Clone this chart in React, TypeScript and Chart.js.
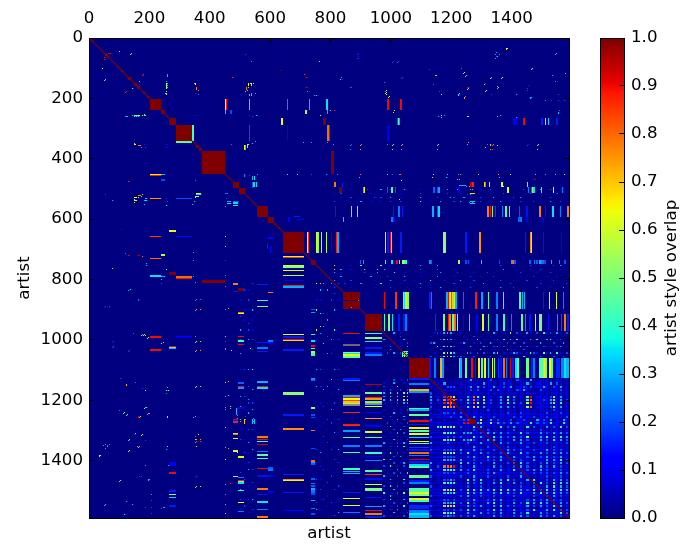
import React, { useEffect, useRef } from "react";
import { Chart, registerables, ScatterController } from "chart.js";

// ---------- axis values ----------
const extent = 1590;
const matrixTicks = [0, 200, 400, 600, 800, 1000, 1200, 1400];
const colorbarTicks = [0, 0.1, 0.2, 0.3, 0.4, 0.5, 0.6, 0.7, 0.8, 0.9, 1.0];
const axisTitle = "artist";
const colorbarTitle = "artist style overlap";

// ---------- blocks on the diagonal [start, end] ----------
const diagonalBlocks = [
  [202, 238], [238, 251], [265, 288], [288, 342], [354, 363], [363, 374], [374, 450], [476, 496], [496, 517],
  [556, 592], [592, 612], [642, 711], [734, 751], [129, 140], [149, 159], [159, 169], [841, 868], [871, 898], [914, 971], [1059, 1126],
  [8, 12], [32, 38], [44, 48], [60, 66], [78, 84], [92, 98], [106, 112], [120, 124], [192, 198], [180, 184],
  [626, 632], [612, 618], [600, 606], [1262, 1278], [1200, 1206], [1140, 1146],
];
const offDiagonalBlocks = [
  [841, 868, 871, 898, 1], [871, 898, 871, 898, 1], [871, 898, 841, 868, 1], [841, 868, 841, 868, 1],
];

// ---------- stripes of each community: [position, width, value] ----------
const band202 = [[450, 3, 0.62], [453, 3, 0.88], [530, 3, 0.75], [656, 3, 0.85], [729, 3, 0.8], [786, 3, 0.35], [988, 3, 0.9], [1031, 3, 0.9]];
const band238 = [[450, 3, 0.32], [468, 3, 0.2], [788, 3, 0.3], [716, 3, 0.55]];
const band265 = [[637, 4, 0.65], [775, 10, 1], [1024, 4, 0.42], [1028, 2, 0.3], [1020, 3, 0.9], [1405, 3, 0.12], [1412, 3, 0.12], [1438, 3, 0.9], [1510, 3, 0.5], [1520, 3, 0.33], [1548, 3, 0.15], [1498, 3, 0.15]];
const band288 = [[342, 4, 0.45], [530, 3, 0.2], [656, 3, 0.12], [790, 3, 0.8], [794, 3, 0.9], [988, 3, 0.1]];
const band374 = [[803, 7, 1]];
const band476 = [[812, 3, 0.78], [838, 3, 0.15], [1261, 5, 0.92], [1266, 3, 0.15], [1270, 5, 0.88], [1308, 3, 0.68], [1312, 3, 0.8], [1325, 3, 0.58], [1366, 3, 0.62], [1451, 3, 0.5], [544, 3, 0.35], [552, 3, 0.35]];
const band496 = [[829, 6, 1], [908, 3, 0.78], [911, 3, 0.65], [986, 3, 0.9], [1001, 3, 0.42], [1013, 3, 0.9], [1140, 3, 0.22], [1153, 3, 0.9], [1157, 3, 0.28], [1223, 3, 0.12], [1385, 3, 0.62], [1454, 3, 0.25], [1464, 3, 0.88], [1468, 3, 0.5], [1472, 3, 0.35], [1497, 3, 0.38], [1537, 3, 0.62], [1567, 3, 0.25]];
const band556 = [[814, 3, 0.15], [868, 3, 0.42], [888, 3, 0.5], [1007, 3, 0.15], [1024, 3, 0.25], [1037, 3, 0.15], [1137, 3, 0.3], [1153, 3, 0.9], [1157, 3, 0.35], [1319, 3, 0.78], [1327, 3, 0.9], [1335, 3, 0.45], [1344, 3, 0.92], [1368, 3, 0.25], [1379, 3, 0.45], [1390, 3, 0.45], [1424, 3, 0.9], [1448, 3, 0.14], [1491, 3, 0.78], [1510, 3, 0.14], [1535, 3, 0.35], [1560, 3, 0.25], [1585, 3, 0.78]];
const band592 = [[840, 4, 0.78], [1000, 4, 0.25], [1008, 4, 0.13], [1421, 4, 0.22], [1428, 4, 0.25], [1448, 4, 0.1], [1500, 4, 0.1], [660, 4, 0.12]];
const band642 = [[721, 3, 0.62], [724, 3, 0.85], [751, 4, 0.6], [755, 4, 0.52], [768, 3, 0.62], [784, 3, 0.55], [800, 3, 0.1], [817, 3, 0.88], [820, 3, 0.72], [823, 2, 0.3], [980, 3, 0.62], [988, 3, 0.15], [997, 3, 0.9], [1000, 3, 0.68], [1031, 3, 0.15], [1173, 7, 0.52], [1246, 3, 0.15], [1293, 3, 0.76], [1443, 4, 0.15], [1460, 3, 0.76], [1463, 3, 0.65], [1504, 3, 0.14], [1563, 3, 0.12]];
const band734 = [[897, 3, 0.22], [906, 3, 0.28], [980, 3, 0.42], [1002, 3, 0.35], [1018, 3, 0.9], [1026, 3, 0.48], [1036, 8, 0.58], [1044, 7, 0.42], [1127, 3, 0.27], [1132, 3, 0.22], [1223, 3, 0.55], [1246, 3, 0.2], [1255, 3, 0.2], [1297, 3, 0.78], [1358, 3, 0.2], [1399, 3, 0.8], [1403, 3, 0.3], [1409, 3, 0.22], [1459, 3, 0.22], [1473, 3, 0.25], [1482, 5, 0.22], [1490, 6, 0.3], [1498, 7, 0.24], [1508, 5, 0.2], [1530, 3, 0.3], [1556, 3, 0.25], [1572, 5, 0.2]];
const band841 = [[1040, 4, 0.52], [1044, 3, 0.35], [1047, 4, 0.62], [1052, 3, 0.3], [1055, 3, 0.48], [1127, 3, 0.15], [1132, 3, 0.25], [1184, 4, 0.3], [1190, 3, 0.9], [1194, 3, 0.65], [1198, 3, 0.85], [1204, 3, 0.7], [1208, 3, 0.55], [1212, 3, 0.8], [1216, 3, 0.3], [1238, 3, 0.88], [1280, 3, 0.88], [1300, 3, 0.28], [1321, 3, 0.45], [1349, 3, 0.25], [1371, 3, 0.42], [1426, 4, 0.42], [1434, 3, 0.3], [1441, 3, 0.3], [1503, 3, 0.15], [1523, 3, 0.62], [1547, 3, 0.62], [1569, 3, 0.25], [977, 3, 0.9], [1015, 3, 0.85], [1012, 3, 0.25], [891, 3, 0.8]];
const band914 = [[977, 3, 0.42], [991, 3, 0.52], [1004, 3, 0.35], [1024, 3, 0.15], [1040, 6, 0.15], [1048, 5, 0.25], [1145, 3, 0.95], [1172, 6, 0.48], [1189, 3, 0.88], [1194, 3, 0.75], [1203, 3, 0.45], [1209, 3, 0.78], [1212, 3, 0.3], [1218, 3, 0.62], [1239, 3, 0.12], [1258, 3, 0.75], [1283, 3, 0.12], [1303, 3, 0.62], [1321, 3, 0.45], [1349, 3, 0.25], [1373, 3, 0.42], [1384, 3, 0.12], [1398, 3, 0.25], [1430, 5, 0.45], [1443, 3, 0.85], [1459, 3, 0.14], [1477, 3, 0.62], [1492, 6, 0.5], [1520, 3, 0.14], [1550, 3, 0.28], [1563, 3, 0.9], [1575, 3, 0.78], [1585, 3, 0.15]];
const band1059 = [[1127, 4, 0.15], [1143, 4, 0.25], [1162, 7, 0.72], [1169, 4, 0.28], [1225, 4, 0.42], [1229, 4, 0.3], [1247, 4, 0.48], [1267, 4, 0.9], [1277, 3, 0.15], [1288, 4, 0.65], [1300, 4, 0.45], [1310, 4, 0.62], [1321, 4, 0.33], [1334, 4, 0.65], [1340, 3, 0.48], [1354, 4, 0.18], [1362, 4, 0.14], [1371, 4, 0.8], [1380, 4, 0.25], [1393, 4, 0.92], [1402, 3, 0.15], [1410, 7, 0.35], [1417, 7, 0.45], [1446, 9, 0.48], [1464, 5, 0.15], [1470, 6, 0.25], [1492, 11, 0.45], [1503, 7, 0.62], [1510, 6, 0.5], [1525, 6, 0.62], [1531, 5, 0.42], [1548, 11, 0.16], [1564, 8, 0.25], [1572, 8, 0.35], [1580, 9, 0.3]];

// ---------- faint lines running through the busy corner: [position, value] ----------
const cornerLines = [
  [1245, 0.1], [1256, 0.07], [1272, 0.11], [1283, 0.08], [1305, 0.12], [1322, 0.12], [1339, 0.08], [1361, 0.11], [1372, 0.08], [1388, 0.1], [1399, 0.08],
  [1427, 0.12], [1438, 0.1], [1449, 0.08], [1493, 0.11], [1504, 0.12], [1515, 0.1], [1532, 0.12], [1548, 0.1], [1565, 0.11], [1581, 0.08],
];

// ---------- thin rows crossing the wide stripes [x0, x1, y, value] ----------
const rowRuns = [
  [1040, 1058, 1036, 0.48], [1040, 1058, 1044, 0.62], [1040, 1058, 1050, 0.42], [1190, 1219, 1196, 0.85],
  [149, 169, 255, 0.5], [122, 128, 257, 0.32], [150, 157, 352, 0.65], [163, 171, 354, 0.78], [150, 158, 527, 0.62],
  [150, 158, 535, 0.6], [163, 171, 521, 0.78], [174, 180, 517, 0.45], [185, 192, 529, 0.35], [185, 192, 538, 0.35],
  [354, 372, 512, 0.62], [354, 372, 518, 0.35], [352, 366, 522, 0.55], [458, 472, 540, 0.3], [478, 496, 540, 0.22],
  [458, 472, 546, 0.35], [450, 462, 512, 0.25], [1225, 1250, 488, 0.3], [1261, 1278, 512, 0.7], [1261, 1278, 540, 0.32],
  [1261, 1278, 546, 0.32], [1150, 1172, 575, 0.12], [680, 700, 590, 0.15], [690, 712, 600, 0.13],
];

// ---------- loose cells [x, y, value] ----------
const looseCells = [
  [100, 44, 0.6], [140, 51, 0.4], [49, 62, 0.9], [56, 52, 0.9], [62, 58, 0.9], [68, 50, 0.9], [538, 75, 0.3], [518, 53, 0.2], [762, 75, 0.7],
  [632, 107, 1], [711, 118, 0.85], [718, 128, 0.9], [180, 118, 0.85], [257, 118, 0.3], [259, 148, 0.35], [259, 156, 0.35], [259, 162, 0.35], [53, 137, 0.4],
  [474, 130, 0.85], [348, 148, 0.7], [532, 150, 0.6], [544, 150, 0.65], [527, 161, 0.7], [522, 172, 0.72], [718, 161, 0.9], [360, 172, 0.8], [122, 176, 0.9],
  [166, 163, 0.55], [144, 166, 0.4], [255, 181, 0.4], [251, 183, 0.5], [538, 183, 0.3], [551, 183, 0.3], [352, 181, 0.15], [362, 185, 0.2], [722, 176, 0.8],
  [745, 188, 0.3], [752, 190, 0.32], [892, 50, 0.15], [892, 58, 0.15], [892, 67, 0.15], [1008, 76, 0.15], [1024, 76, 0.2], [1349, 48, 0.3], [1349, 60, 0.22],
  [1358, 52, 0.3], [1385, 32, 0.65], [1546, 51, 0.3], [1150, 122, 0.7], [1243, 112, 0.65], [1248, 122, 0.35], [1333, 130, 0.35], [1368, 130, 0.6], [835, 130, 0.3],
  [1037, 130, 0.2], [1467, 100, 0.4], [1256, 161, 0.9], [1256, 167, 0.5], [1313, 150, 0.2], [1355, 161, 0.7], [1367, 148, 0.15], [1454, 155, 0.15], [868, 161, 0.2],
  [983, 172, 0.6], [983, 178, 0.62], [983, 185, 0.55], [994, 193, 0.65], [1245, 193, 0.8], [1226, 181, 0.5], [1464, 194, 0.3], [1314, 172, 0.6], [1535, 122, 0.3],
  [798, 240, 0.35], [811, 240, 0.9], [980, 240, 0.15], [1011, 240, 0.62], [1556, 240, 0.25], [124, 258, 0.35], [144, 255, 0.3], [174, 255, 0.5], [185, 255, 0.7], [257, 258, 0.35],
  [351, 255, 0.15], [360, 255, 0.12], [530, 255, 0.15], [540, 258, 0.2], [552, 255, 0.35], [765, 255, 0.48], [1156, 258, 0.3], [1175, 256, 0.25], [1256, 258, 0.5], [1360, 255, 0.3],
  [809, 350, 0.8], [868, 350, 0.22], [902, 350, 0.78], [986, 350, 0.3], [1007, 350, 0.5], [1037, 350, 0.72], [1156, 350, 0.48], [1256, 345, 0.75], [1319, 350, 0.28], [1328, 350, 0.5],
  [1338, 350, 0.8], [1454, 350, 0.15], [1487, 350, 0.5], [472, 350, 0.85], [522, 350, 0.38], [527, 350, 0.6], [522, 358, 0.45], [540, 348, 0.3], [550, 340, 0.3], [710, 345, 0.78],
  [736, 345, 0.3], [788, 345, 0.3], [822, 452, 0.8], [897, 452, 0.78], [988, 450, 0.7], [1003, 452, 0.2], [1030, 450, 0.78], [1140, 452, 0.62], [1186, 452, 0.35], [1223, 452, 0.8],
  [1230, 452, 0.3], [1290, 452, 0.7], [1355, 452, 0.75], [1395, 452, 0.62], [1478, 452, 0.75], [1510, 452, 0.3], [1543, 452, 0.35], [1572, 452, 0.55], [530, 455, 0.2], [558, 452, 0.3],
  [656, 452, 0.5], [688, 452, 0.7], [735, 452, 0.2], [786, 452, 0.3], [1370, 490, 0.6], [1250, 490, 0.3], [1258, 490, 0.8], [1270, 500, 0.75], [1220, 500, 0.8], [1140, 500, 0.3],
  [135, 832, 0.35], [163, 865, 0.25], [356, 865, 0.25], [367, 865, 0.25], [356, 898, 0.75], [367, 898, 0.75], [461, 895, 0.75], [53, 889, 0.2], [67, 889, 0.2], [80, 1004, 0.2],
  [80, 1020, 0.25], [133, 1034, 0.2], [146, 977, 0.25], [174, 981, 0.3], [183, 981, 0.65], [196, 991, 0.55], [244, 1007, 0.65], [356, 1004, 0.5], [367, 1004, 0.5], [356, 1034, 0.75],
  [367, 1034, 0.75], [452, 1027, 0.8], [470, 1034, 0.6], [533, 1027, 0.65], [102, 1126, 0.2], [124, 1146, 0.75], [151, 1141, 0.25], [174, 1159, 0.2], [186, 1165, 0.55], [254, 1165, 0.45],
  [262, 1165, 0.5], [356, 1153, 0.5], [367, 1153, 0.5], [459, 1137, 0.7], [459, 1183, 0.35], [100, 1232, 0.25], [117, 1239, 0.6], [127, 1245, 0.4], [163, 1252, 0.95], [169, 1252, 0.6],
  [184, 1222, 0.35], [188, 1222, 0.35], [196, 1242, 0.75], [200, 1242, 0.75], [259, 1252, 0.6], [352, 1252, 0.75], [466, 1226, 0.75], [466, 1220, 0.4], [516, 1252, 0.9], [516, 1262, 0.3],
  [544, 1258, 0.3], [544, 1268, 0.3], [151, 1308, 0.5], [174, 1312, 0.6], [133, 1328, 0.4], [53, 1345, 0.3], [67, 1345, 0.3], [58, 1352, 0.35], [160, 1350, 0.75], [166, 1350, 0.75], [133, 1365, 0.65],
  [185, 1330, 0.2], [259, 1350, 0.55], [362, 1312, 0.6], [356, 1328, 0.75], [367, 1328, 0.75], [356, 1334, 0.85], [367, 1334, 0.85], [353, 1352, 0.65], [459, 1358, 0.75], [34, 1380, 0.65],
  [36, 1380, 0.65], [185, 1416, 0.3], [262, 1416, 0.3], [102, 1463, 0.45], [165, 1450, 0.2], [172, 1450, 0.2], [196, 1460, 0.3], [200, 1460, 0.3], [356, 1450, 0.2], [356, 1484, 0.55], [367, 1484, 0.55],
  [466, 1474, 0.9], [205, 1512, 0.3], [53, 1543, 0.3], [141, 1543, 0.3], [117, 1576, 0.35], [244, 1553, 0.3], [248, 1553, 0.3], [186, 1553, 0.2], [205, 1553, 0.2], [205, 1530, 0.2], [205, 1575, 0.2],
];

// ---------- hand-read cell tables: one digit per cell, tenths of overlap ----------
const denseRows = [
  "000100000000300100200010002000300010000100",
  "001030000100100030010020100003001000302000",
  "100102220101303020131020301020201031020301",
  "000010110010202010202010102030100201010201",
  "200010000101010101010101010101010101010101",
  "301098860103184050101304030105901010250301",
  "302089980204182050201305020104801020340302",
  "201098790103186040201304030206901010350401",
  "200077880104175030101303020105801010240301",
  "001011110101010102010101010101010101020101",
  "100122120201010101010102010201010102010201",
  "101011210301030201020101020201020102010102",
  "200010001129901601302010201020103020301030",
  "101010001099903501503020302010402020401040",
  "104465550201040301010402030104020103020402",
  "101011110101020102010101020101010201010101",
  "100144440133310203030302010402010302030302",
  "201012120201040301040302030205010304030403",
  "100044550133420103030201030302010302040302",
  "300112110102010301010302010301020102010102",
  "101011110101030102010102010102010101020101",
  "201022220301030201020103020201020103020201",
  "100155550204010302010203010402010302030302",
  "101022220102030104020301030102030203020301",
  "000033330301020102020301020201030103030402",
  "301010100403020201030102030402010203020302",
  "102088890201030101030201020302010302030201",
  "301044440302040102010301040102030302010201",
  "100122120102010102030101010201020202020302",
  "201011110201030102010102010301010102010201",
  "101022320105030401020304020103040102030302",
  "101044440103020301030401030201030402040403",
  "200111110102010201010201010201020103040302",
  "101055650205040403040504030302040304030403",
  "100034340104030301030403020401030403040302",
  "201011110203010201020101020101020102030201",
  "100122120102030102030301020102030203020201",
  "101033340204020103040201030204030403020302",
  "200176760103020301030402020103020302040301",
  "101022120204030102040301030102040103040302",
  "100154450103010302020301030204010302010402",
  "201023220202030101030201020302010302030201",
];
const sideRows = [
  "01020102", "10030010", "20105001", "10201202", "30404056", "30405065", "30304056", "10102033", "00101012", "10010102",
  "01030101", "10201030", "00103020", "02010102", "10401020", "01020301", "00103020", "10102010", "01030102", "30102130",
  "10203040", "01010102", "10402010", "01020301", "50301010", "01020130", "20401020", "10103010", "01020204", "30102010",
  "10301040", "00101020", "20402010", "01030102", "40102050", "10301010", "20401030", "01020102", "30102040", "10203010",
  "01030102", "20101020",
];
const innerRows = [
  "10030100", "01000200", "30100030", "00010102", "10200103", "00301001", "02030200", "01010103",
];
const upperRows = [
  "060000100500000600100000000300003000001000100100000200010010200100020300",
  "070300100040005030000000000200002000010001001000010030001000100200100100",
  "030100000020003000040010000100001300002000010002000010000200001000200010",
  "100300001000300002000030000100003000010000200100020001000100020001001000",
  "030010200000010000300020010000400010000300020001000200010002000100020001",
  "001020000300000400000100000300001000020000100030001000200010000200010002",
  "020000100000010000200001000200100300001000200010000300020010002000100030",
];
const middleRows = [
  "000300100002000300200030000100003003002000300100200003000020010300200100",
  "010200000100100010000100000200001002000100020000100020010000200100002000",
  "000100200000020200300100000300002000320030000200030010020300001000200010",
  "020010000300100100200200000400100300020300100200100300100200020100300200",
];

// ---------- the colour map ----------
function ramp(v: number, points: number[][]) {
  for (let i = 1; i < points.length; i++) {
    if (v <= points[i][0]) {
      const t = (v - points[i - 1][0]) / (points[i][0] - points[i - 1][0] || 1);
      return points[i - 1][1] + t * (points[i][1] - points[i - 1][1]);
    }
  }
  return points[points.length - 1][1];
}
const jetRed = [[0, 0], [0.35, 0], [0.66, 1], [0.89, 1], [1, 0.5]];
const jetGreen = [[0, 0], [0.125, 0], [0.375, 1], [0.64, 1], [0.91, 0], [1, 0]];
const jetBlue = [[0, 0.5], [0.11, 1], [0.34, 1], [0.65, 0], [1, 0]];
function jet(v: number) {
  return `rgb(${Math.round(ramp(v, jetRed) * 255)},${Math.round(ramp(v, jetGreen) * 255)},${Math.round(ramp(v, jetBlue) * 255)})`;
}

// ---------- a dataset of rectangles placed by the chart's own scales ----------
class CellController extends ScatterController {
  static id = "cell";
  static defaults = { ...ScatterController.defaults };
  draw() {
    const meta: any = this.getMeta();
    const { xScale, yScale } = meta;
    const ctx = this.chart.ctx;
    for (const c of this.getDataset().data as any[]) {
      const xa = Math.round(xScale.getPixelForValue(c.x));
      const xb = Math.round(xScale.getPixelForValue(c.x2));
      const ya = Math.round(yScale.getPixelForValue(c.y));
      const yb = Math.round(yScale.getPixelForValue(c.y2));
      ctx.fillStyle = jet(c.v);
      ctx.fillRect(Math.min(xa, xb), Math.min(ya, yb), Math.max(1, Math.abs(xb - xa)), Math.max(1, Math.abs(yb - ya)));
    }
  }
}
Chart.register(...registerables, CellController);

function buildCells() {
  const cells: any[] = [];
  const rect = (x: number, x2: number, y: number, y2: number, v: number) => cells.push({ x, y, x2, y2, v });
  const both = (a0: number, a1: number, b0: number, b1: number, v: number) => {
    rect(a0, a1, b0, b1, v);
    rect(b0, b1, a0, a1, v);
  };
  const band = (a0: number, a1: number, stripes: number[][]) => stripes.forEach(([p, w, v]) => both(a0, a1, p, p + w + 1.6, v));
  const table = (rows: string[], x0: number, y0: number, dx: number, dy: number, size: number, mirror: boolean) =>
    rows.forEach((row, r) =>
      row.split("").forEach((d, c) => {
        if (d === "0") return;
        const x = x0 + c * dx;
        const y = y0 + r * dy;
        if (mirror) both(x, x + size, y, y + size, Number(d) / 10);
        else rect(x, x + size, y, y + size, Number(d) / 10);
      })
    );

  rect(0, extent, 0, extent, 0);
  rect(1130, extent, 1130, extent, 0.03);
  cornerLines.forEach(([p, v]) => both(1130, extent, p, p + 3.3, v));
  table(denseRows, 1130, 1130, 11, 11, 7, false);
  table(sideRows, 975, 1130, 11, 11, 5, true);
  table(innerRows, 975, 975, 11, 11, 5, false);
  table(upperRows, 800, 752, 11, 12, 4, true);
  table(middleRows, 800, 500, 11, 13, 4, true);
  looseCells.forEach(([x, y, v]) => both(x, x + 3.3, y, y + 3.3, v));
  rowRuns.forEach(([x0, x1, y, v]) => both(x0, x1, y, y + 3.3, v));
  band(202, 238, band202);
  band(238, 251, band238);
  band(265, 288, band265);
  band(288, 342, band288);
  band(374, 450, band374);
  band(476, 492, band476);
  band(493, 513, band496);
  band(556, 592, band556);
  band(592, 608, band592);
  band(642, 711, band642);
  band(734, 750, band734);
  band(841, 898, band841);
  band(914, 971, band914);
  band(1059, 1126, band1059);
  diagonalBlocks.forEach(([a, b]) => rect(a, b, a, b, 1));
  offDiagonalBlocks.forEach(([x0, x1, y0, y1, v]) => rect(x0, x1, y0, y1, v));
  return cells;
}

const FONT = { family: "'DejaVu Sans'", size: 16.67 };
const INK = "#000";

export default function App() {
  const mainRef = useRef<HTMLCanvasElement>(null);
  const barRef = useRef<HTMLCanvasElement>(null);

  useEffect(() => {
    const fixed = (prop: "width" | "height", n: number) => (s: any) => { s[prop] = n; };
    const useTicks = (values: number[]) => (s: any) => { s.ticks = values.map((value) => ({ value })); };
    const tickGrid = { drawOnChartArea: false, drawTicks: true, tickLength: -5, color: INK, tickColor: INK, z: 1 };
    const frame = { color: INK, width: 1, z: 1 };

    const main = new Chart(mainRef.current!, {
      type: "cell" as any,
      data: {
        datasets: [
          { type: "cell", data: buildCells(), pointRadius: 0, xAxisID: "x", yAxisID: "y", order: 2 } as any,
          { type: "line", data: [{ x: 0, y: 0 }, { x: extent, y: extent }], borderColor: "#800000", borderWidth: 1.1, pointRadius: 0, xAxisID: "x", yAxisID: "y", order: 1 } as any,
        ],
      },
      options: {
        responsive: false,
        animation: false,
        events: [],
        layout: { padding: { left: 0, top: 0, right: 6, bottom: 0 } },
        plugins: { legend: { display: false }, tooltip: { enabled: false } },
        scales: {
          x: {
            type: "linear", position: "top", min: 0, max: extent,
            afterBuildTicks: useTicks(matrixTicks), afterFit: fixed("height", 38),
            ticks: { font: FONT, color: INK, padding: 14, maxRotation: 0, autoSkip: false, callback: (v: any) => String(v) },
            grid: tickGrid, border: frame,
          },
          xb: {
            type: "linear", position: "bottom", min: 0, max: extent,
            afterBuildTicks: useTicks([]), afterFit: fixed("height", 32),
            ticks: { display: false }, grid: { ...tickGrid, drawTicks: false }, border: frame,
            title: { display: true, text: axisTitle, font: FONT, color: INK, padding: { top: 0, bottom: 6 } },
          },
          y: {
            type: "linear", position: "left", reverse: true, min: 0, max: extent,
            afterBuildTicks: useTicks(matrixTicks), afterFit: fixed("width", 89),
            ticks: { font: FONT, color: INK, padding: 11, autoSkip: false, callback: (v: any) => String(v) },
            grid: tickGrid, border: frame,
            title: { display: true, text: axisTitle, font: FONT, color: INK, padding: { top: 15, bottom: 0 } },
          },
          yr: {
            type: "linear", position: "right", reverse: true, min: 0, max: extent,
            afterBuildTicks: useTicks(matrixTicks), afterFit: fixed("width", 0),
            ticks: { display: false }, grid: tickGrid, border: frame,
          },
        },
      } as any,
    });

    const levels: any[] = [];
    for (let i = 0; i < 256; i++) levels.push({ x: 0, x2: 1, y: i / 256, y2: (i + 1) / 256, v: i / 255 });
    const rotatedTitle = {
      id: "rotatedTitle",
      afterDraw(chart: any) {
        const ctx = chart.ctx;
        ctx.save();
        ctx.translate(92, (chart.chartArea.top + chart.chartArea.bottom) / 2);
        ctx.rotate(-Math.PI / 2);
        ctx.font = "16.67px 'DejaVu Sans'";
        ctx.fillStyle = INK;
        ctx.textAlign = "center";
        ctx.textBaseline = "middle";
        ctx.fillText(colorbarTitle, 0, 0);
        ctx.restore();
      },
    };
    const bar = new Chart(barRef.current!, {
      type: "cell" as any,
      data: { datasets: [{ type: "cell", data: levels, pointRadius: 0, xAxisID: "cx", yAxisID: "cy" } as any] },
      plugins: [rotatedTitle],
      options: {
        responsive: false,
        animation: false,
        events: [],
        layout: { padding: 0 },
        plugins: { legend: { display: false }, tooltip: { enabled: false } },
        scales: {
          cx: {
            type: "linear", position: "top", min: 0, max: 1,
            afterBuildTicks: useTicks([]), afterFit: fixed("height", 38),
            ticks: { display: false }, grid: { ...tickGrid, drawTicks: false }, border: frame,
          },
          cxb: {
            type: "linear", position: "bottom", min: 0, max: 1,
            afterBuildTicks: useTicks([]), afterFit: fixed("height", 32),
            ticks: { display: false }, grid: { ...tickGrid, drawTicks: false }, border: frame,
          },
          cl: {
            type: "linear", position: "left", min: 0, max: 1,
            afterBuildTicks: useTicks([]), afterFit: fixed("width", 20),
            ticks: { display: false }, grid: { ...tickGrid, drawTicks: false }, border: frame,
          },
          cy: {
            type: "linear", position: "right", min: 0, max: 1,
            afterBuildTicks: useTicks(colorbarTicks), afterFit: fixed("width", 67),
            ticks: { font: FONT, color: INK, padding: 12, autoSkip: false, callback: (v: any) => Number(v).toFixed(1) },
            grid: tickGrid, border: frame,
          },
        },
      } as any,
    });

    return () => {
      main.destroy();
      bar.destroy();
    };
  }, []);

  return (
    <div style={{ position: "absolute", left: 0, top: 0, width: 691, height: 550, background: "#fff" }}>
      <canvas ref={mainRef} width={575} height={550} style={{ position: "absolute", left: 0, top: 0 }} />
      <canvas ref={barRef} width={111} height={550} style={{ position: "absolute", left: 580, top: 0 }} />
    </div>
  );
}
